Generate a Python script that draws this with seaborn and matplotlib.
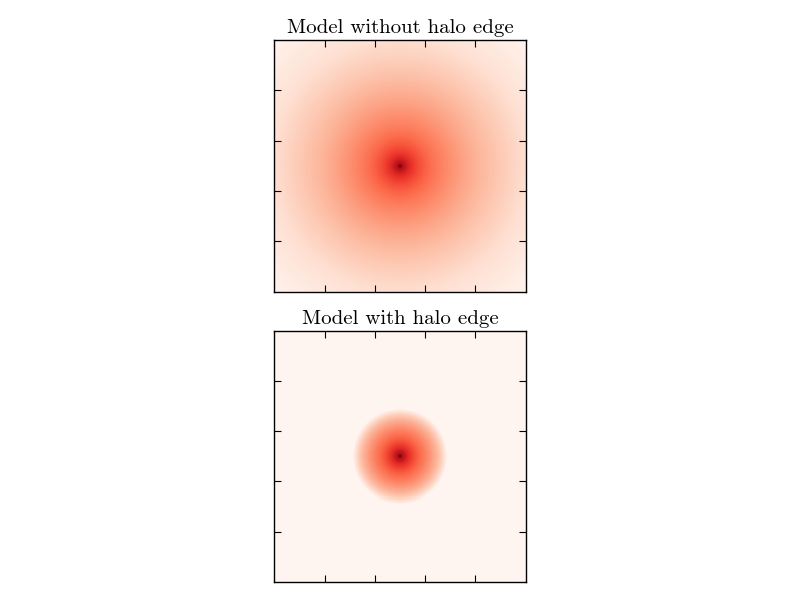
import numpy as np
import matplotlib
matplotlib.use("Agg")
import matplotlib.pyplot as plt
from matplotlib.colors import LogNorm
import seaborn as sns

# model parameters (pixel units)
n_pix = 250
scale_radius = 100.0
inner_slope = 0.8
outer_slope = 3.5
edge_radius = 50.0
corner_level = 0.02
titles = ["Model without halo edge", "Model with halo edge"]
tick_pos = [50, 100, 150, 200]

plt.style.use("classic")
plt.rcParams["font.family"] = ["cmr10", "DejaVu Serif"]
plt.rcParams["axes.unicode_minus"] = False


def halo(r, edge=None):
    x = np.maximum(r, 0.5) / scale_radius
    rho = x ** (-inner_slope) * (1 + x) ** (inner_slope - outer_slope)
    if edge is not None:
        rho = rho * np.clip(1 - r / edge, 0, None)
    return rho


yy, xx = np.mgrid[0:n_pix, 0:n_pix] + 0.5
r = np.hypot(xx - n_pix / 2, yy - n_pix / 2)
vmax = halo(r.min())
ln_span = np.log(vmax / halo(r.max())) / (1 - corner_level)
vmin = vmax * np.exp(-ln_span)

maps = [halo(r), halo(r, edge_radius)]

fig, axes = plt.subplots(2, 1, figsize=(8, 6), dpi=100)
fig.subplots_adjust(left=0.05, right=0.95, top=0.9333, bottom=0.03, hspace=0.155)
for ax, img, title in zip(axes, maps, titles):
    sns.heatmap(np.clip(img, vmin, vmax), ax=ax, cmap="Reds",
                norm=LogNorm(vmin=vmin, vmax=vmax), cbar=False, square=True,
                xticklabels=False, yticklabels=False, rasterized=True)
    for s in ax.spines.values():
        s.set_visible(True)
        s.set_color("black")
        s.set_linewidth(1.0)
    ax.set_xticks(tick_pos)
    ax.set_yticks(tick_pos)
    ax.set_xticklabels([])
    ax.set_yticklabels([])
    ax.tick_params(direction="in", length=5, width=0.8, top=True, right=True,
                   color="black")
    ax.set_title(title, fontsize=15)

plt.savefig("out.png", dpi=100)
